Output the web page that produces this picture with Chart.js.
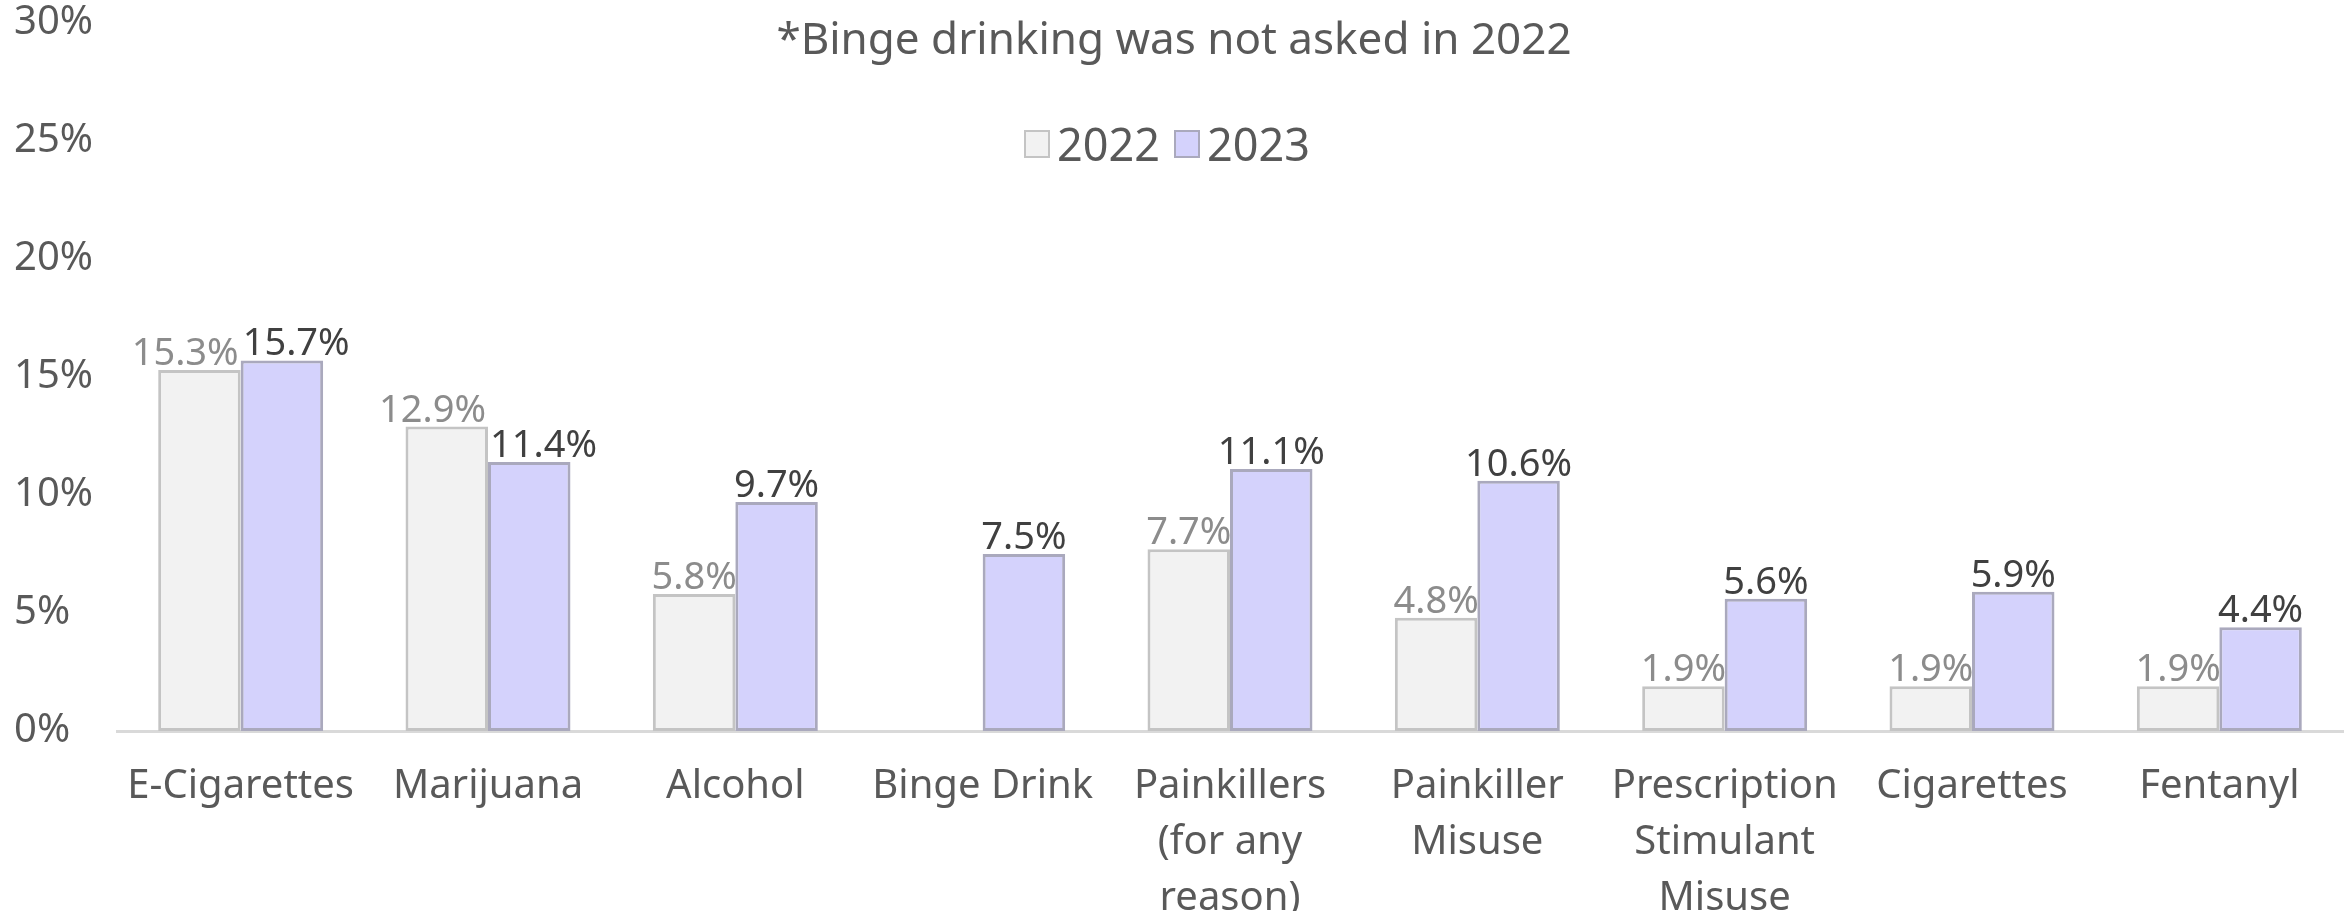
<!DOCTYPE html>
<html>
<head>
<meta charset="utf-8">
<script src="https://cdn.jsdelivr.net/npm/chart.js@4.4.1/dist/chart.umd.min.js"></script>
<style>
  body { margin: 0; background: #fff; }
  .wrap { position: relative; width: 2348px; height: 911px; font-family: "Noto Sans", sans-serif; }
  .subtitle { position: absolute; left: 0; top: 11px; width: 2348px; text-align: center; font-size: 44px; line-height: 52px; color: #595959; }
  .legend { position: absolute; left: 0; top: 118px; width: 2348px; display: flex; justify-content: center; align-items: center; font-size: 45px; line-height: 52px; color: #595959; }
  .legend span.box { display: inline-block; width: 22px; height: 24px; margin-right: 7px; border: 2px solid; }
  .legend span.txt { margin-right: 14px; }
</style>
</head>
<body>
<div class="wrap">
  <canvas id="myChart" width="2348" height="911"></canvas>
  <div class="subtitle">*Binge drinking was not asked in 2022</div>
  <div class="legend">
    <span class="box" style="background:#f2f2f2;border-color:#c4c4c4"></span><span class="txt">2022</span>
    <span class="box" style="background:#d4d2fc;border-color:#aaa9bd"></span><span class="txt">2023</span>
  </div>
</div>
<script>
const categories = [
  'E-Cigarettes',
  'Marijuana',
  'Alcohol',
  'Binge Drink',
  ['Painkillers', '(for any', 'reason)'],
  ['Painkiller', 'Misuse'],
  ['Prescription', 'Stimulant', 'Misuse'],
  'Cigarettes',
  'Fentanyl'
];
const values2022 = [15.3, 12.9, 5.8, null, 7.7, 4.8, 1.9, 1.9, 1.9];
const values2023 = [15.7, 11.4, 9.7, 7.5, 11.1, 10.6, 5.6, 5.9, 4.4];
const yTicks = [0, 5, 10, 15, 20, 25, 30];

const labelColors = ['#8c8c8c', '#404040'];

// draws the value above each bar, nudging the pair apart when they collide
const valueLabels = {
  id: 'valueLabels',
  afterDatasetsDraw(chart) {
    const ctx = chart.ctx;
    ctx.save();
    ctx.font = '38px "Noto Sans"';
    ctx.textAlign = 'center';
    ctx.textBaseline = 'alphabetic';
    categories.forEach((c, i) => {
      const items = [];
      chart.data.datasets.forEach((ds, d) => {
        const v = ds.data[i];
        if (v == null) return;
        const bar = chart.getDatasetMeta(d).data[i];
        const text = v.toFixed(1) + '%';
        items.push({ x: bar.x, y: bar.y - 5, w: ctx.measureText(text).width, text, color: labelColors[d] });
      });
      if (items.length === 2) {
        const [a, b] = items;
        const overlap = (a.x + a.w / 2) - (b.x - b.w / 2);
        if (overlap > 0 && Math.abs(a.y - b.y) < 42) {
          a.x -= overlap / 2 + 2;
          b.x += overlap / 2 + 2;
        }
      }
      items.forEach(it => {
        ctx.fillStyle = it.color;
        ctx.fillText(it.text, it.x, it.y);
      });
    });
    ctx.restore();
  }
};

Chart.defaults.font.family = '"Noto Sans", sans-serif';

const config = {
  type: 'bar',
  data: {
    labels: categories,
    datasets: [
      {
        label: '2022',
        data: values2022,
        backgroundColor: '#f2f2f2',
        borderColor: '#c4c4c4',
        borderWidth: 3,
        borderSkipped: false,
        categoryPercentage: 0.667,
        barPercentage: 1
      },
      {
        label: '2023',
        data: values2023,
        backgroundColor: '#d4d2fc',
        borderColor: '#aaa9bd',
        borderWidth: 3,
        borderSkipped: false,
        categoryPercentage: 0.667,
        barPercentage: 1
      }
    ]
  },
  options: {
    responsive: false,
    animation: false,
    layout: { padding: { left: 14, right: 5, top: 0, bottom: 0 } },
    plugins: {
      legend: { display: false },
      title: { display: false },
      tooltip: { enabled: false }
    },
    scales: {
      x: {
        grid: { display: false },
        border: { display: true, color: '#d9d9d9', width: 3 },
        ticks: {
          color: '#595959',
          font: { size: 40, lineHeight: 1.4 },
          padding: 20,
          maxRotation: 0,
          autoSkip: false
        },
        afterFit: (scale) => { scale.height = 180; }
      },
      y: {
        min: 0,
        max: 30,
        grid: { display: false },
        border: { display: false },
        afterBuildTicks: (scale) => { scale.ticks = yTicks.map(v => ({ value: v })); },
        ticks: {
          color: '#595959',
          font: { size: 40, lineHeight: 1.0 },
          crossAlign: 'far',
          callback: (value) => value + '%'
        },
        afterFit: (scale) => { scale.width = 103; }
      }
    }
  },
  plugins: [valueLabels]
};

const myChart = new Chart('myChart', config);
</script>
</body>
</html>
